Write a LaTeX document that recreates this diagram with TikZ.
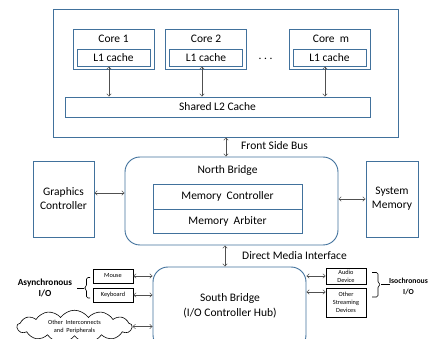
\documentclass[tikz,border=0pt]{standalone}
\usepackage{fontspec}
\setmainfont{Carlito}
\usetikzlibrary{arrows.meta,shapes.symbols}
\definecolor{bbox}{RGB}{65,113,156}
\definecolor{arrc}{RGB}{80,80,80}
\begin{document}
\begin{tikzpicture}[x=1pt,y=-1pt,
  box/.style={draw=bbox, line width=0.9pt, inner sep=0pt, align=center,
    font=\fontsize{11.5}{13}\selectfont},
  txt/.style={inner sep=0pt, align=center, font=\fontsize{11.5}{15}\selectfont},
  small/.style={draw=black, line width=0.6pt, inner sep=0pt, align=center,
    font=\fontsize{6.3}{8}\selectfont},
  link/.style={draw=arrc, line width=0.5pt, <->, >={Straight Barb[length=2.5pt,width=4.5pt]}},
  brk/.style={draw=black, line width=0.6pt}]
\useasboundingbox (0,0) rectangle (440,339);

% CPU
\node[box, minimum width=345pt, minimum height=128pt] (cpu) at (225.5,73) {};
\node[box, minimum width=81pt, minimum height=40pt] (c1) at (113.5,49) {};
\node[box, minimum width=81pt, minimum height=40pt] (c2) at (206,49) {};
\node[box, minimum width=81pt, minimum height=40pt] (cm) at (329.5,49) {};
\node[txt] (c1t) at (113.5,38.5) {Core 1};
\node[txt] (c2t) at (206,38.5) {Core 2};
\node[txt] (cmt) at (331,38.5) {Core~~m};
\node[box, minimum width=73pt, minimum height=17pt] (l1a) at (113.5,57.5) {L1 cache};
\node[box, minimum width=73pt, minimum height=17pt] (l1b) at (206,57.5) {L1 cache};
\node[box, minimum width=73pt, minimum height=17pt] (l1m) at (329.5,57.5) {L1 cache};
\node[txt] (dots) at (265.5,59) {.~.~.};
\node[box, minimum width=305pt, minimum height=20pt] (l2) at (217.5,107) {Shared L2 Cache};
\draw[link] ([xshift=-4.5pt]l1a.south) -- ([xshift=-4.5pt]l1a.south |- l2.north);
\draw[link] ([xshift=-4pt]l1b.south) -- ([xshift=-4pt]l1b.south |- l2.north);
\draw[link] ([xshift=-4.5pt]l1m.south) -- ([xshift=-4.5pt]l1m.south |- l2.north);

% North bridge
\node[box, rounded corners=15pt, minimum width=213pt, minimum height=88pt] (nb) at (231.5,201) {};
\node[txt] (nbt) at (227.5,170.5) {North Bridge};
\node[box, minimum width=149pt, minimum height=25pt] (mc) at (227.5,196.5) {Memory~~Controller};
\node[box, minimum width=149pt, minimum height=24pt] (ma) at (227.5,221) {Memory~~Arbiter};
\draw[link] ([xshift=0.5pt]cpu.south) -- ([xshift=0.5pt]cpu.south |- nb.north);
\node[txt, anchor=west] (fsb) at (241,146) {Front Side Bus};

\node[box, minimum width=61pt, minimum height=76pt, font=\fontsize{11.5}{14}\selectfont] (gc) at (63.5,199) {Graphics\\Controller};
\node[box, minimum width=52pt, minimum height=76pt, font=\fontsize{11.5}{14}\selectfont] (sm) at (392,199) {System\\Memory};
\draw[link] ([yshift=6pt]gc.east) -- ([yshift=6pt]gc.east -| nb.west);
\draw[link] ([yshift=2pt]nb.east) -- ([yshift=2pt]nb.east -| sm.west);

% South bridge
\node[box, rounded corners=15pt, minimum width=153pt, minimum height=83pt] (sb) at (229.5,308.5) {};
\node[txt] (sbt) at (230,305.5) {South Bridge\\(I/O Controller Hub)};
\draw[link] ([xshift=-6.5pt]nb.south) -- ([xshift=-6.5pt]nb.south |- sb.north);
\node[txt, anchor=west] (dmi) at (242,256) {Direct Media Interface};

% Asynchronous side
\node[small, minimum width=40pt, minimum height=14pt] (mouse) at (113,276) {Mouse};
\node[small, minimum width=40pt, minimum height=14pt] (kb) at (113,295) {Keyboard};
\node[cloud, draw=black, line width=0.6pt, cloud puffs=13, cloud puff arc=110, aspect=6,
  minimum width=115pt, minimum height=19pt, inner sep=0pt, align=center,
  font=\fontsize{6.3}{8}\selectfont] (cl) at (74.5,326.5) {Other~ Interconnects\\and~ Peripherals};
\draw[link] (mouse.east) -- (mouse.east -| sb.west);
\draw[link] (kb.east) -- (kb.east -| sb.west);
\draw[link] (cl.east) -- (cl.east -| sb.west);
\draw[brk, rounded corners=1.5pt] (90,277.5) -- (86.5,277.5) -- (86.5,286.5) -- (84,288) -- (86.5,289.5) -- (86.5,298) -- (90,298);
\coordinate (ltip) at (84,288);
\coordinate (lend) at (77,288);
\draw[brk] (lend) -- (ltip);
\node[inner sep=0pt, align=center, font=\fontsize{9.3}{11.5}\selectfont\bfseries] (async) at (45,288) {Asynchronous\\I/O\hspace{13pt}};

% Isochronous side
\node[small, minimum width=40pt, minimum height=16pt] (audio) at (346,276) {Audio\\Device};
\node[small, minimum width=40pt, minimum height=29pt] (osd) at (346,302.5) {Other\\Streaming\\Devices};
\draw[link] (audio.west -| sb.east) -- (audio.west);
\draw[link] ([yshift=10.5pt]osd.west -| sb.east) -- ([yshift=10.5pt]osd.west);
\draw[brk, rounded corners=1.5pt] (372,272.5) -- (378,272.5) -- (378,283) -- (381,284.5) -- (378,286) -- (378,297) -- (372,297);
\coordinate (rtip) at (381,284.5);
\coordinate (rend) at (390,284.5);
\draw[brk] (rtip) -- (rend);
\node[inner sep=0pt, align=center, font=\fontsize{7.7}{10.5}\selectfont\bfseries] (iso) at (408.5,286.5) {Isochronous\\I/O};
\end{tikzpicture}
\end{document}
